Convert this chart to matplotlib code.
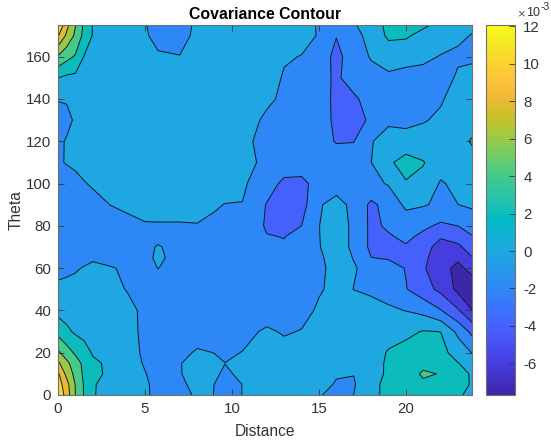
import numpy as np
import matplotlib
matplotlib.use("Agg")
import matplotlib.pyplot as plt
from matplotlib.colors import LinearSegmentedColormap, Normalize
from matplotlib.cm import ScalarMappable

plt.rcParams["font.family"] = ["Liberation Sans", "DejaVu Sans"]
plt.rcParams["axes.unicode_minus"] = False

distance = [0, 0.5, 1, 1.5, 2, 3, 4, 5, 5.75, 7, 8, 9, 9.6, 10.6, 12, 13, 14, 15, 16, 17, 18, 19, 20, 21, 22, 23, 23.8]
theta = [0, 5, 10, 15, 20, 30, 40, 50, 60, 65, 70, 75, 80, 90, 100, 110, 120, 130, 140, 150, 160, 170, 175]

# one row per theta, in units of 1e-3
cov = [
    [12.07, 9, 6, 3.85, 2.1, 1.5, 1, .3, -.5, -.7, .3, -.02, -.6, .02, .9, 1, .8, .2, -.8, .02, 1.7, 2.3, 3, 3.4, 3, 2.2, 1.6],
    [11.1, 8.7, 5.9, 3.8, 2.1, 1.6, 1.1, .3, -.6, -.4, .6, -.02, -.7, .02, .9, 1.1, 1, .8, -.2, -.2, 1.7, 2.3, 3.1, 3.6, 3.2, 2.4, 1.9],
    [10.4, 7.4, 5.4, 3.6, 2.4, 1.7, 1.1, .1, -.8, -.1, .7, .3, -.3, .37, 1, 1.2, 1.2, 1, .2, .05, 1.5, 2.2, 3, 4.3, 3.9, 2.5, 1.85],
    [8.4, 6.5, 4.9, 3.5, 2.4, 1.6, 1, -.2, -.9, -.1, .8, .3, .02, .5, 1.2, 1.3, 1.3, 1.2, 1, .9, 1.2, 2.3, 2.9, 3.4, 3.1, 2.05, 1.3],
    [6.4, 4.9, 3.7, 2.8, 1.8, 1.2, .7, -.3, -1, -.7, .3, -.03, -.3, .05, .8, .7, .8, .9, .9, .9, 1.2, 2.15, 2.6, 3, 2.6, 1.2, -.05],
    [3.3, 2.4, 1.7, 1.4, 1.2, .9, .6, -.4, -1, -1.2, -1.2, -1.2, -1.1, -.6, .3, -.2, .1, .8, 1, 1, 1, 1.3, 1.6, 2.1, 1.98, -.5, -2.5],
    [1.4, 1.2, 1, .9, .9, .8, .5, -.4, -1, -1.1, -1.1, -1.1, -1.1, -1.1, -1, -.8, -.7, .3, .9, .9, .6, .3, -.05, -.6, -1.9, -3.8, -5.95],
    [.3, .4, .5, .6, .7, .5, -.1, -.9, -1.7, -1.1, -1.2, -1.2, -1.2, -1.3, -1.4, -1.5, -1.2, -.2, .5, -.02, -.3, -.8, -1.9, -3.2, -4.5, -6.5, -7.69],
    [-.4, -.3, -.15, .1, .4, .1, -.2, -.8, .05, -1.1, -1.2, -1.3, -1.3, -1.3, -1.5, -1.6, -1.2, -.4, .6, .1, -.4, -1.2, -2.1, -3.8, -5.2, -6.6, -5.2],
    [-.7, -.65, -.6, -.45, -.25, -.45, -.6, -.9, .6, -1.2, -1.25, -1.3, -1.35, -1.4, -1.65, -1.75, -1.35, -.22, .55, -.05, -1.98, -2.2, -2.2, -3.6, -5, -5.6, -4.1],
    [-1, -1, -1, -1, -.9, -1, -1, -1, .3, -1.3, -1.3, -1.3, -1.4, -1.5, -1.8, -1.9, -1.5, -.05, .5, -.2, -2.45, -2.7, -2.2, -3.3, -4.7, -4.4, -3],
    [-1.15, -1.15, -1.15, -1.1, -1.05, -1, -.85, -.6, -1, -.75, -.7, -.85, -.95, -1.25, -1.95, -2.03, -1.7, -.03, .5, -.2, -2.45, -2.2, -1.55, -2.45, -3.8, -3.2, -2.1],
    [-1.3, -1.3, -1.3, -1.2, -1.2, -1, -.7, -.2, -.2, -.2, -.1, -.4, -.6, -1, -2.15, -2.9, -2, -.02, .5, -.2, -2.45, -1.7, -1.1, -1.6, -2.35, -1.98, -1.2],
    [-1.2, -1.1, -1, -.9, -.6, .02, .5, .8, .9, .9, .7, .2, -.05, -.05, -2.1, -3.4, -2.8, -.2, .7, -.5, -2.4, -1.3, .4, .15, -.35, -.01, .3],
    [-.9, -.8, -.6, -.1, .2, .6, .8, .9, 1, 1, 1, .9, .8, .3, -1.2, -2.4, -2.5, -1.25, -.9, -.9, -.5, .15, 1.85, 1.5, -.2, .5, .8],
    [-.2, .1, .4, .6, .7, .8, 1, 1, 1, 1, 1, 1, 1, .7, -.5, -1, -1, -1, -1.2, -1.2, -.02, 1.7, 2.7, 2.1, .9, .8, .9],
    [-.25, .1, .4, .6, .7, .8, 1, 1, 1, 1, 1, 1, .9, .3, -.4, -.8, -.9, -1.4, -2.1, -2.05, -.1, .7, .9, .9, .8, .9, 2.3],
    [-.4, -.3, .15, .5, .7, .8, 1, 1, 1, 1, 1, 1, .8, .5, -.2, -.7, -.9, -1.2, -2.35, -2.7, -1.7, -.3, -.6, -.15, .35, .8, .6],
    [.05, .1, .3, .5, .7, .9, 1, 1, 1, 1, 1, 1, 1, .8, .2, -.2, -.7, -1.6, -2.2, -2.3, -1.3, -1, -1, -.9, -.2, .8, .7],
    [2.02, 1.6, 1.5, 1.2, 1.1, 1, 1, 1, 1, 1, 1, 1, 1, 1, .7, -.15, -.7, -1.3, -2.3, -1.2, -.9, -.3, -.5, -.7, -.6, .2, .3],
    [5.8, 4.6, 3.8, 1.9, .9, .5, .4, .3, .2, .05, .3, .5, .6, .6, .3, .15, -.05, -1.2, -2.4, -1.3, .2, .7, .5, .4, -.1, -.2, -.15],
    [10.2, 7.6, 5.6, 3.4, 1.9, 1, .6, .2, -.5, -.6, .4, .7, .7, .7, .7, .6, .5, -.1, -1.95, -.5, .5, 2.4, 2.3, 1.3, .9, .2, -.05],
    [12.07, 8.6, 6.1, 3.6, 1.9, 1.1, .6, .1, -.6, -.7, .3, .8, .8, .8, .8, .7, .4, -.1, -1.2, -.2, 1, 2.5, 2.8, 2.4, 1.4, .6, .2],
]

levels = [-7.69, -6, -4, -2, 0, 2, 4, 6, 8, 10, 12, 12.07]
xticks = [0, 5, 10, 15, 20]
yticks = [0, 20, 40, 60, 80, 100, 120, 140, 160]
cticks = [-6, -4, -2, 0, 2, 4, 6, 8, 10, 12]

# parula, every third row
parula = LinearSegmentedColormap.from_list("parula", [
    (0.2422, 0.1504, 0.6603), (0.2647, 0.1978, 0.7952), (0.2783, 0.2559, 0.8991),
    (0.2810, 0.3228, 0.9579), (0.2699, 0.3892, 0.9906), (0.2206, 0.4603, 0.9973),
    (0.1786, 0.5289, 0.9682), (0.1540, 0.5902, 0.9218), (0.1248, 0.6459, 0.8883),
    (0.0689, 0.6948, 0.8394), (0.0067, 0.7312, 0.7660), (0.1408, 0.7584, 0.6842),
    (0.2161, 0.7843, 0.5923), (0.3406, 0.8008, 0.4789), (0.5044, 0.7993, 0.3480),
    (0.6720, 0.7793, 0.2227), (0.8203, 0.7498, 0.1535), (0.9393, 0.7288, 0.2100),
    (0.9970, 0.7659, 0.2199), (0.9786, 0.8386, 0.1766), (0.9597, 0.9135, 0.1423),
    (0.9769, 0.9839, 0.0805),
], N=256)

W, H = 551, 442
fig = plt.figure(figsize=(W / 100, H / 100), dpi=100)
ax = fig.add_axes([58 / W, 1 - 395 / H, 414 / W, 370 / H])
cax = fig.add_axes([486 / W, 1 - 395 / H, 29 / W, 370 / H])

norm = Normalize(levels[0], levels[-1])
bandColors = [parula(norm(v)) for v in levels[:-1]]
ax.contourf(distance, theta, np.array(cov), levels=levels, colors=bandColors)
ax.contour(distance, theta, np.array(cov), levels=levels[1:-1], colors="#101820", linewidths=0.7, linestyles="solid")

ax.set_xlim(0, 23.8)
ax.set_ylim(0, 175)
ax.set_xticks(xticks)
ax.set_yticks(yticks)
ax.tick_params(direction="in", length=4, width=0.6, top=True, right=True, labelsize=10.8,
               colors="#333333", pad=5)
for s in ax.spines.values():
    s.set_color("#6e6e6e")
    s.set_linewidth(0.8)
ax.set_title("Covariance Contour", fontsize=11.4, fontweight="bold", color="black", pad=4)
ax.set_xlabel("Distance", fontsize=11.2, color="#333333", labelpad=6)
ax.set_ylabel("Theta", fontsize=11.2, color="#333333", labelpad=1.5)

cb = fig.colorbar(ScalarMappable(norm=norm, cmap=parula), cax=cax, ticks=cticks)
cb.ax.tick_params(direction="in", length=4, width=0.6, labelsize=10.8, colors="#333333", pad=6)
cb.outline.set_edgecolor("#6e6e6e")
cb.outline.set_linewidth(0.8)

fig.text(517 / W, 1 - 14 / H, "×", fontsize=9.5, color="#555555", ha="left", va="center")
fig.text(526 / W, 1 - 13 / H, "10", fontsize=9, color="#333333", ha="left", va="center")
fig.text(540.5 / W, 1 - 7 / H, "-3", fontsize=7.5, color="#333333", ha="left", va="center")

fig.savefig("out.png", dpi=100)
